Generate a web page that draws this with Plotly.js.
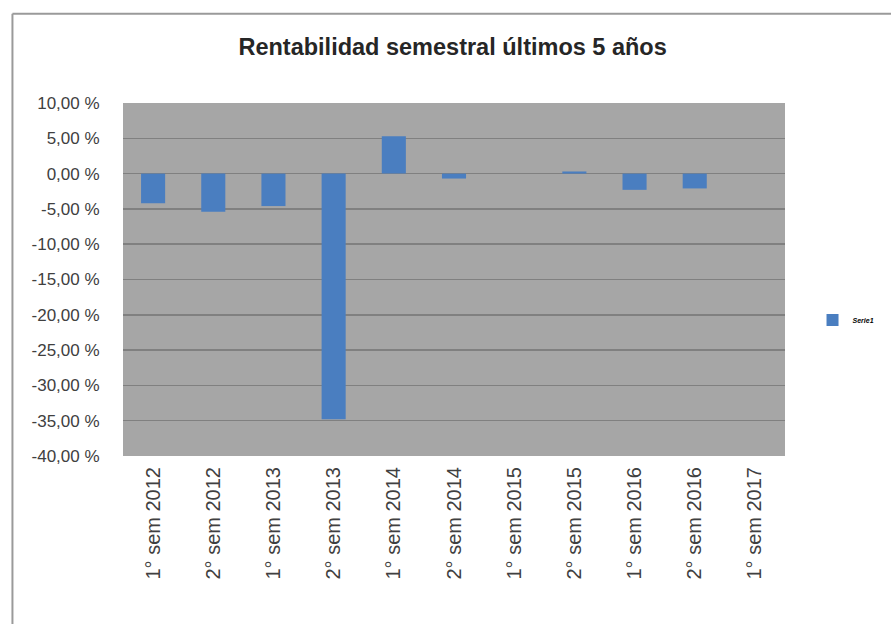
<!DOCTYPE html>
<html>
<head>
<meta charset="utf-8">
<script src="https://cdn.plot.ly/plotly-3.0.1.min.js"></script>
<style>html,body{margin:0;padding:0;background:#fff;}#chart{width:891px;height:624px;}</style>
</head>
<body>
<div id="chart"></div>
<script>
const categories = ["1° sem 2012","2° sem 2012","1° sem 2013","2° sem 2013","1° sem 2014","2° sem 2014","1° sem 2015","2° sem 2015","1° sem 2016","2° sem 2016","1° sem 2017"];
const rentabilidad = [-4.2, -5.4, -4.6, -34.8, 5.3, -0.7, 0.0, 0.3, -2.3, -2.1, null];
const seriesName = "Serie1";
const yTicks = [10, 5, 0, -5, -10, -15, -20, -25, -30, -35, -40];
const yTickLabels = ["10,00 %", "5,00 %", "0,00 %", "-5,00 %", "-10,00 %", "-15,00 %", "-20,00 %", "-25,00 %", "-30,00 %", "-35,00 %", "-40,00 %"];

const trace = {
  type: 'bar',
  x: categories,
  y: rentabilidad,
  name: seriesName,
  marker: {color: '#4a7ec0'},
  showlegend: true,
  hoverinfo: 'x+y'
};

const layout = {
  width: 891, height: 624,
  margin: {l: 123, r: 105, t: 103, b: 168},
  paper_bgcolor: '#ffffff',
  plot_bgcolor: '#a6a6a6',
  bargap: 0.6,
  title: {
    text: 'Rentabilidad semestral últimos 5 años',
    x: 0.508, xanchor: 'center', y: 0.925, yanchor: 'middle',
    font: {family: '"Liberation Sans", Arial, sans-serif', size: 23.5, color: '#262626', weight: 'bold'}
  },
  xaxis: {
    type: 'category',
    tickangle: -90,
    tickfont: {family: '"Liberation Sans", Arial, sans-serif', size: 20, color: '#404040'},
    ticks: 'outside', ticklen: 2, tickcolor: 'rgba(0,0,0,0)',
    showgrid: false, zeroline: false, showline: false,
    fixedrange: true
  },
  yaxis: {
    range: [-40, 10],
    tickmode: 'array',
    tickvals: yTicks,
    ticktext: yTickLabels,
    tickfont: {family: '"Liberation Sans", Arial, sans-serif', size: 17, color: '#404040'},
    ticks: 'outside', ticklen: 19, tickcolor: 'rgba(0,0,0,0)',
    showgrid: true, gridcolor: '#808080', gridwidth: 1.5,
    zeroline: true, zerolinecolor: '#808080', zerolinewidth: 1.5,
    showline: false,
    fixedrange: true
  },
  legend: {
    x: 1.04, y: 0.385, xanchor: 'left', yanchor: 'middle',
    font: {family: '"Liberation Sans", Arial, sans-serif', size: 7, color: '#000', weight: 'bold', style: 'italic'},
    bgcolor: 'rgba(0,0,0,0)', itemwidth: 30
  },
  shapes: [
    {type: 'line', xref: 'paper', yref: 'paper', x0: -0.167, x1: 1.2, y0: 1.253, y1: 1.253, line: {color: '#9a9a9a', width: 2}},
    {type: 'line', xref: 'paper', yref: 'paper', x0: -0.167, x1: -0.167, y0: 1.253, y1: -0.5, line: {color: '#9a9a9a', width: 2}}
  ]
};

Plotly.newPlot('chart', [trace], layout, {displayModeBar: false, staticPlot: true});
</script>
</body>
</html>
